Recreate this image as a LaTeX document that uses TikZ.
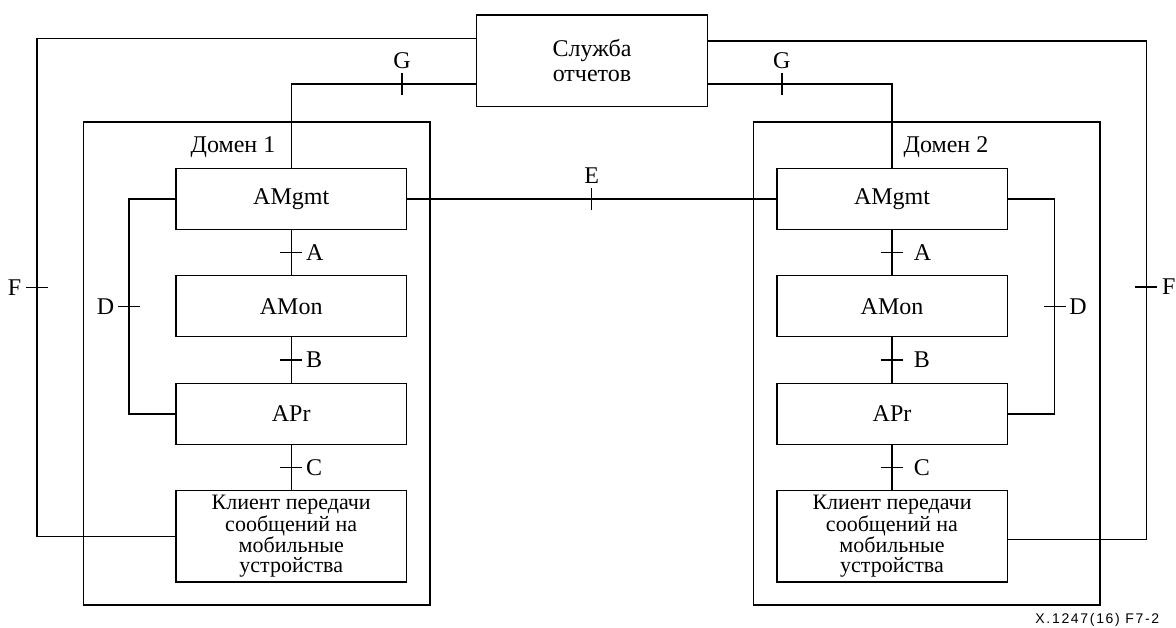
\documentclass[tikz,border=0pt]{standalone}
\usepackage{fontspec}
\setmainfont{Liberation Serif}
\newfontfamily\capfont[LetterSpace=12]{Liberation Sans}
\begin{document}
\begin{tikzpicture}[x=1pt,y=-1pt,line width=1.5pt,
  box/.style={draw,rectangle,inner sep=0pt,minimum width=230.5pt,align=center,font=\fontsize{24}{20}\selectfont},
  clibox/.style={box,minimum height=91.5pt,font=\fontsize{22}{20}\selectfont},
  dombox/.style={draw,rectangle,inner sep=0pt,minimum width=346.5pt,minimum height=483pt},
  lbl/.style={inner sep=0pt,font=\fontsize{24}{24}\selectfont},
  tickln/.style={line width=1.5pt}]
\useasboundingbox (0,0) rectangle (1176,627);

% report service
\node[draw,rectangle,inner sep=0pt,minimum width=231pt,minimum height=91.5pt,align=center,
      font=\fontsize{24}{25}\selectfont] (serv) at (592,60.75) {Служба\\отчетов};

% domains
\node[dombox] (dom1) at (256.75,363.5) {};
\node[dombox] (dom2) at (926.75,363.5) {};
\node[lbl,anchor=base] (d1lbl) at (233,152) {Домен 1};
\node[lbl,anchor=base] (d2lbl) at (946,152) {Домен 2};

% domain 1 boxes
\node[box,minimum height=61.4pt] (amg1) at (291.25,199) {AMgmt};
\node[box,minimum height=61pt] (amon1) at (291.25,306.2) {AMon};
\node[box,minimum height=61pt] (apr1) at (291.25,413.8) {APr};
\node[clibox] (cli1) at (291.25,536.25)
  {Клиент передачи\\сообщений на\\мобильные\\устройства};

% domain 2 boxes
\node[box,minimum height=61.4pt] (amg2) at (892,199) {AMgmt};
\node[box,minimum height=61pt] (amon2) at (892,306.2) {AMon};
\node[box,minimum height=61pt] (apr2) at (892,413.8) {APr};
\node[clibox] (cli2) at (892,536.25)
  {Клиент передачи\\сообщений на\\мобильные\\устройства};

% G connectors
\draw (amg1.north) |- ([yshift=-23.25pt]serv.west) coordinate[pos=0.8] (g1);
\draw[tickln] ([yshift=11pt]g1) -- ([yshift=-11pt]g1);
\node[lbl,anchor=south] (g1lbl) at ([yshift=15pt]g1) {G};
\draw (amg2.north) |- ([yshift=-23.25pt]serv.east) coordinate[pos=0.8] (g2);
\draw[tickln] ([yshift=11pt]g2) -- ([yshift=-11pt]g2);
\node[lbl,anchor=south] (g2lbl) at ([yshift=15pt]g2) {G};

% E connector
\draw (amg1.east) -- (amg2.west) coordinate[pos=0.5] (e);
\draw[tickln] ([yshift=11pt]e) -- ([yshift=-11pt]e);
\node[lbl,anchor=south] (elbl) at ([yshift=15pt]e) {E};

% A, B, C in domain 1
\draw (amg1.south) -- (amon1.north) coordinate[midway] (a1);
\draw[tickln] ([xshift=-11pt]a1) -- ([xshift=11pt]a1);
\node[lbl,anchor=west] at ([xshift=14pt]a1) {A};
\draw (amon1.south) -- (apr1.north) coordinate[midway] (b1);
\draw[tickln] ([xshift=-11pt]b1) -- ([xshift=11pt]b1);
\node[lbl,anchor=west] at ([xshift=14pt]b1) {B};
\draw (apr1.south) -- (cli1.north) coordinate[midway] (c1);
\draw[tickln] ([xshift=-11pt]c1) -- ([xshift=11pt]c1);
\node[lbl,anchor=west] at ([xshift=14pt]c1) {C};

% A, B, C in domain 2
\draw (amg2.south) -- (amon2.north) coordinate[midway] (a2);
\draw[tickln] ([xshift=-11pt]a2) -- ([xshift=11pt]a2);
\node[lbl,anchor=west] at ([xshift=21pt]a2) {A};
\draw (amon2.south) -- (apr2.north) coordinate[midway] (b2);
\draw[tickln] ([xshift=-11pt]b2) -- ([xshift=11pt]b2);
\node[lbl,anchor=west] at ([xshift=21pt]b2) {B};
\draw (apr2.south) -- (cli2.north) coordinate[midway] (c2);
\draw[tickln] ([xshift=-11pt]c2) -- ([xshift=11pt]c2);
\node[lbl,anchor=west] at ([xshift=21pt]c2) {C};

% D connectors
\draw (amg1.west) -- ++(-46.3,0) |- (apr1.west) coordinate[pos=0.25] (d1);
\draw[tickln] ([xshift=-11pt]d1) -- ([xshift=11pt]d1);
\node[lbl,anchor=east] at ([xshift=-14pt]d1) {D};
\draw (amg2.east) -- ++(46.5,0) |- (apr2.east) coordinate[pos=0.25] (d2);
\draw[tickln] ([xshift=-11pt]d2) -- ([xshift=11pt]d2);
\node[lbl,anchor=west] at ([xshift=14pt]d2) {D};

% F connectors
\coordinate (fl) at (37,0);
\coordinate (fr) at (1146.3,0);
\coordinate (c2e) at ([yshift=-3pt]cli2.east);
\draw ([yshift=22.5pt]serv.west) -| (fl |- cli1.west) coordinate[pos=0.75] (f1) -- (cli1.west);
\draw[tickln] ([xshift=-11pt]f1) -- ([xshift=11pt]f1);
\node[lbl,anchor=east] at ([xshift=-15pt]f1) {F};
\draw ([yshift=20pt]serv.east) -| (fr |- c2e) coordinate[pos=0.747] (f2) -- (c2e);
\draw[tickln] ([xshift=-11pt]f2) -- ([xshift=11pt]f2);
\node[lbl,anchor=west] at ([xshift=15pt]f2) {F};

% caption
\node[anchor=base east,inner sep=0pt,font=\capfont\fontsize{14}{14}\selectfont] (cap) at (1160,623.5) {X.1247(16) F7-2};
\end{tikzpicture}
\end{document}
